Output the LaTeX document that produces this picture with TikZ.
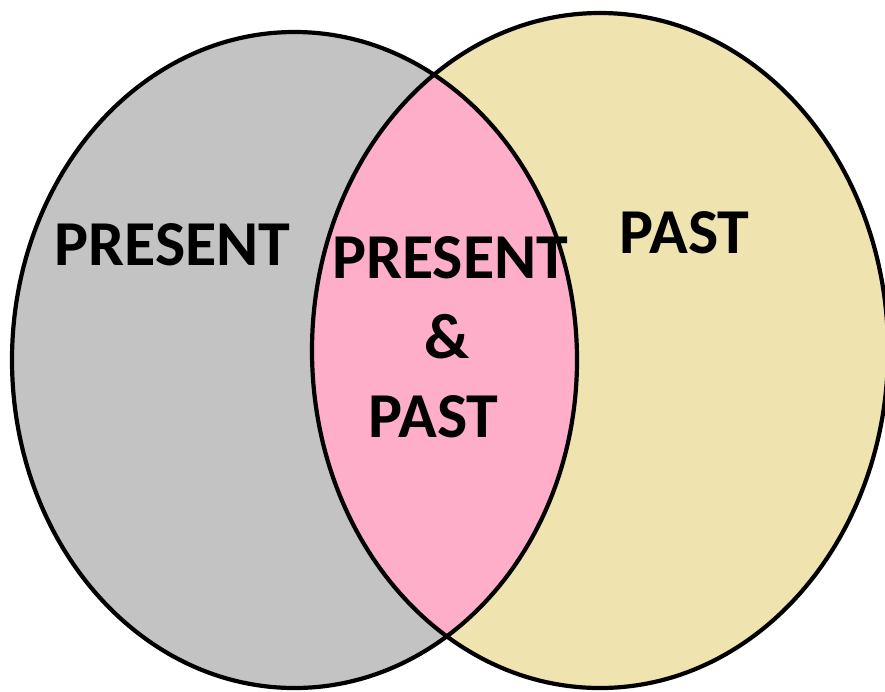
\documentclass[tikz,border=0pt]{standalone}
\usepackage{fontspec}
\setmainfont{Carlito}
\definecolor{leftgray}{RGB}{195,195,195}
\definecolor{rightbeige}{RGB}{239,228,176}
\definecolor{midpink}{RGB}{255,174,201}
\begin{document}
\begin{tikzpicture}[x=1pt,y=-1pt,
  outline/.style={draw=black,line width=4.2pt},
  lbl/.style={font=\fontsize{64}{64}\selectfont\bfseries,inner sep=0pt,anchor=base,text=black}]
\useasboundingbox (0,0) rectangle (885,691);
\begin{scope}
\clip (0,0) rectangle (885,691);
\fill[leftgray] (294.5,360) ellipse [x radius=282.5,y radius=328];
\fill[rightbeige] (600,350.5) ellipse [x radius=288,y radius=337.5];
\begin{scope}
\clip (294.5,360) ellipse [x radius=282.5,y radius=328];
\fill[midpink] (600,350.5) ellipse [x radius=288,y radius=337.5];
\end{scope}
\draw[outline] (294.5,360) ellipse [x radius=282.5,y radius=328];
\draw[outline] (600,350.5) ellipse [x radius=288,y radius=337.5];
\end{scope}
\node[lbl] (present) at (172.5,265) {PRESENT};
\node[lbl] (past) at (684.5,253) {PAST};
\node[lbl] (bothA) at (450,278) {PRESENT};
\node[lbl] (bothB) at (447,358) {\&};
\node[lbl] (bothC) at (433.5,437) {PAST};
\end{tikzpicture}
\end{document}
